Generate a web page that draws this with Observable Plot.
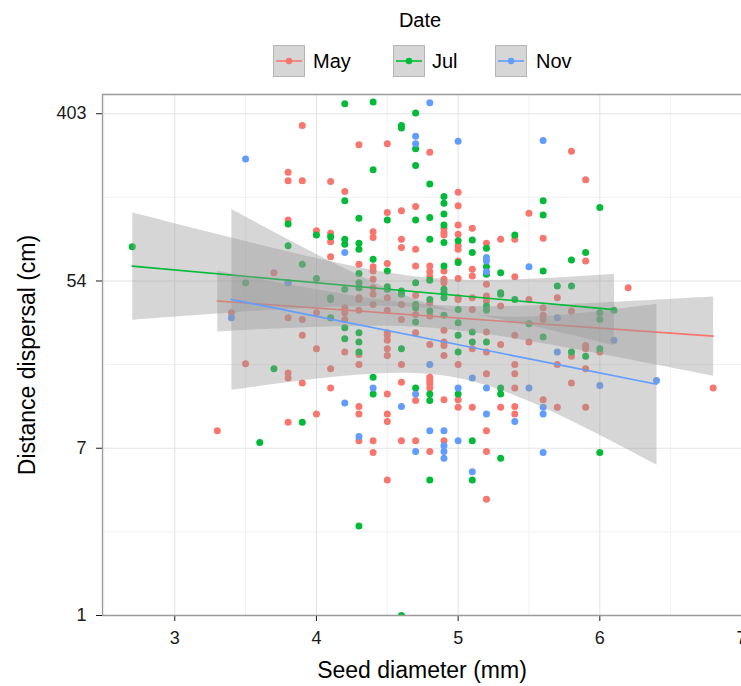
<!DOCTYPE html>
<html>
<head>
<meta charset="utf-8">
<script src="https://cdn.jsdelivr.net/npm/d3@7"></script>
<script src="https://cdn.jsdelivr.net/npm/@observablehq/plot@0.6"></script>
<style>
  html, body { margin: 0; padding: 0; background: #fff; }
  body { font-family: "Liberation Sans", Arial, Helvetica, sans-serif; width: 741px; overflow: hidden; }
  #legend, #chart { line-height: 0; }
  #legend svg, #chart svg { display: block; }
</style>
</head>
<body>
<div id="legend"></div>
<div id="chart"></div>
<script>
// ---- categories, colours, ticks ----
const dates = ["May", "Jul", "Nov"];
const dateColors = ["#F8766D", "#00BA38", "#619CFF"];
const xTicks = [3, 4, 5, 6, 7];
const xMinor = [2.5, 3.5, 4.5, 5.5, 6.5];
const yTicks = [0, 2, 4, 6];          // ln(distance)
const yTickLabels = ["1", "7", "54", "403"];
const yMinor = [1, 3, 5];
const xDomain = [2.49, 7.0];
const yDomain = [0, 6.23];

// ---- data: [seed diameter (mm), [ln distance dispersal (cm), ...]] ----
const may = [
  [3.3, [2.21]],
  [3.4, [3.62]],
  [3.5, [3.01]],
  [3.7, [4.10]],
  [3.8, [5.30, 5.20, 4.73, 3.56, 2.90, 2.84, 2.31]],
  [3.9, [5.86, 5.20, 3.54, 3.35, 2.78]],
  [4.0, [4.60, 3.62, 3.19, 2.41]],
  [4.1, [5.19, 4.57, 4.47, 4.29, 2.95, 2.72]],
  [4.2, [5.07, 3.68, 3.62, 3.54, 3.15]],
  [4.3, [5.63, 4.20, 3.80, 3.78, 3.65, 3.12, 3.00, 2.50, 2.41, 2.09]],
  [4.4, [4.59, 4.52, 4.17, 4.12, 4.02, 3.92, 3.84, 3.72, 2.09, 1.95]],
  [4.5, [5.64, 4.82, 4.21, 3.80, 3.65, 3.38, 3.35, 3.29, 3.19, 3.11, 2.65, 2.41, 2.32, 1.62]],
  [4.6, [4.84, 4.50, 4.40, 3.72, 3.54, 3.00, 2.79, 2.09]],
  [4.7, [4.89, 4.38, 4.18, 3.83, 3.60, 3.38, 2.57, 2.09]],
  [4.8, [5.54, 4.18, 4.11, 4.05, 3.74, 3.58, 3.24, 2.85, 2.81, 2.77, 2.72, 1.96]],
  [4.9, [4.63, 4.58, 4.55, 4.12, 4.02, 3.98, 3.41, 3.27, 3.23, 3.11, 2.58, 2.09]],
  [5.0, [5.06, 4.90, 4.67, 4.56, 4.42, 4.38, 4.24, 4.03, 3.80, 3.78, 3.00, 2.58, 2.49]],
  [5.1, [4.63, 4.14, 4.06, 3.80, 3.66, 3.19, 2.49]],
  [5.2, [4.45, 3.96, 3.82, 3.76, 3.39, 3.15, 2.89, 2.21, 1.96, 1.39]],
  [5.3, [4.50, 3.70, 3.24, 2.49]],
  [5.4, [4.50, 4.05, 3.35, 3.00, 2.89, 2.72, 2.50, 2.41]],
  [5.5, [4.81, 3.78, 3.27]],
  [5.6, [4.51, 3.68, 3.59, 3.54, 2.58]],
  [5.7, [3.80, 3.00, 2.49]],
  [5.8, [5.55, 3.64, 3.10, 2.78]],
  [5.9, [5.21, 4.24, 3.23, 3.19, 2.95, 2.49]],
  [6.0, [3.15]],
  [6.2, [3.92]],
  [6.8, [2.72]]
];
const jul = [
  [2.7, [4.41]],
  [3.5, [3.98]],
  [3.6, [2.07]],
  [3.7, [2.95]],
  [3.8, [4.68, 4.42, 3.98]],
  [3.9, [4.20, 2.31]],
  [4.0, [4.55, 4.03]],
  [4.1, [4.53, 3.80, 3.78, 3.56]],
  [4.2, [6.12, 4.96, 4.50, 4.44, 3.90, 3.44, 3.31]],
  [4.3, [4.75, 4.45, 4.38, 4.09, 3.98, 3.92, 3.38, 3.27, 3.15, 1.07]],
  [4.4, [6.14, 5.33, 4.26, 2.85, 2.65]],
  [4.5, [4.73, 4.12, 3.93, 3.90]],
  [4.6, [5.86, 5.83, 3.88, 3.84, 3.19, 0.00]],
  [4.7, [6.01, 5.58, 5.38, 4.73, 3.98, 3.72, 3.68, 3.51, 2.72]],
  [4.8, [5.16, 4.76, 4.50, 4.01, 3.78, 3.64, 2.65, 2.57, 1.62]],
  [4.9, [5.01, 4.93, 4.80, 4.67, 4.46, 4.18, 3.90, 3.86, 3.80, 3.59]],
  [5.0, [4.48, 4.22, 3.66, 3.50, 3.35, 3.15, 2.65]],
  [5.1, [4.49, 4.34, 3.39, 3.27, 2.09, 1.62]],
  [5.2, [4.39, 4.17, 4.08, 3.70, 3.65, 3.27]],
  [5.3, [4.10, 3.86, 3.84, 2.72, 2.65, 1.88]],
  [5.4, [4.55, 3.78]],
  [5.5, [3.49]],
  [5.6, [4.96, 4.79, 4.12, 3.33]],
  [5.7, [3.94]],
  [5.8, [4.25, 3.94, 3.15]],
  [5.9, [4.34, 3.10]],
  [6.0, [4.88, 3.62, 3.54, 3.19, 1.95]],
  [6.1, [3.65]]
];
const nov = [
  [3.4, [3.56]],
  [3.5, [5.46]],
  [3.8, [3.98]],
  [4.2, [4.34, 2.54]],
  [4.3, [2.14]],
  [4.4, [2.72]],
  [4.6, [2.50]],
  [4.7, [5.73, 5.64, 2.65, 1.96]],
  [4.8, [6.13, 3.00, 2.21]],
  [4.9, [2.21, 2.03, 1.96, 1.88]],
  [5.0, [5.67, 2.72, 2.09]],
  [5.1, [2.84, 1.72]],
  [5.2, [4.28, 4.24, 4.11, 2.72, 2.41]],
  [5.4, [2.32]],
  [5.5, [4.17, 2.72]],
  [5.6, [5.68, 2.49, 2.41, 1.95]],
  [5.7, [3.56, 3.15]],
  [6.0, [2.75]],
  [6.1, [3.29]],
  [6.4, [2.81]]
];

// ---- build table ----
const groups = [may, jul, nov];
const rows = [];
groups.forEach((g, gi) => {
  for (const [d, ys] of g) for (const v of ys) rows.push({date: dates[gi], diameter: d, logDist: v});
});

const FONT = "Liberation Sans, Arial, Helvetica, sans-serif";

// ---- legend (above the plot) ----
const legendH = 84;
const lg = d3.select("#legend").append("svg")
  .attr("width", 741).attr("height", legendH)
  .style("font-family", FONT);
lg.append("text").attr("x", 420).attr("y", 27).attr("text-anchor", "middle")
  .attr("font-size", 20).attr("fill", "#000").text("Date");
const keyX = [273, 393, 495];
const labX = [313, 432, 536];
dates.forEach((d, i) => {
  const g = lg.append("g").attr("transform", `translate(${keyX[i]},45)`);
  g.append("rect").attr("x", 0.5).attr("y", 0.5).attr("width", 31).attr("height", 31)
    .attr("fill", "#d6d6d6").attr("stroke", "#b5b5b5").attr("stroke-width", 1);
  g.append("line").attr("x1", 3).attr("x2", 29).attr("y1", 16).attr("y2", 16)
    .attr("stroke", dateColors[i]).attr("stroke-width", 1.6);
  g.append("circle").attr("cx", 16).attr("cy", 16).attr("r", 3.3).attr("fill", dateColors[i]);
  lg.append("text").attr("x", labX[i]).attr("y", 61).attr("dy", "0.36em")
    .attr("font-size", 20).attr("fill", "#000").text(d);
});

// ---- plot ----
const chart = Plot.plot({
  width: 741,
  height: 686 - legendH,
  marginTop: 10,
  marginBottom: 71,
  marginLeft: 102,
  marginRight: 0,
  style: {fontFamily: FONT, fontSize: "18px", color: "#1a1a1a", background: "#fff", overflow: "visible"},
  x: {domain: xDomain, ticks: xTicks, tickSize: 6, tickPadding: 10, tickFormat: d3.format("d"), label: null},
  y: {domain: yDomain, ticks: yTicks, tickSize: 6, tickPadding: 10,
      tickFormat: (t) => yTickLabels[yTicks.indexOf(t)], label: null},
  color: {domain: dates, range: dateColors},
  marks: [
    Plot.ruleX(xMinor, {stroke: "#f1f1f1", strokeWidth: 1}),
    Plot.ruleY(yMinor, {stroke: "#f1f1f1", strokeWidth: 1}),
    Plot.ruleX(xTicks, {stroke: "#e3e3e3", strokeWidth: 1}),
    Plot.ruleY(yTicks, {stroke: "#e3e3e3", strokeWidth: 1}),
    Plot.dot(rows, {x: "diameter", y: "logDist", fill: "date", r: 3.5, clip: true}),
    Plot.linearRegressionY(rows, {
      x: "diameter", y: "logDist", z: "date", stroke: "date",
      fill: "#999999", fillOpacity: 0.4, strokeWidth: 1.6, ci: 0.95
    }),
    Plot.ruleX([xDomain[0]], {stroke: "#9a9a9a", strokeWidth: 1.3}),
    Plot.ruleY(yDomain, {stroke: "#9a9a9a", strokeWidth: 1.3}),
    Plot.text(["Seed diameter (mm)"], {text: (d) => d, frameAnchor: "bottom", dy: 62, fontSize: 23, fill: "#000"}),
    Plot.text(["Distance dispersal (cm)"], {text: (d) => d, frameAnchor: "left", textAnchor: "middle", dx: -75, rotate: -90, fontSize: 23, fill: "#000"})
  ]
});
document.getElementById("chart").appendChild(chart);
</script>
</body>
</html>
